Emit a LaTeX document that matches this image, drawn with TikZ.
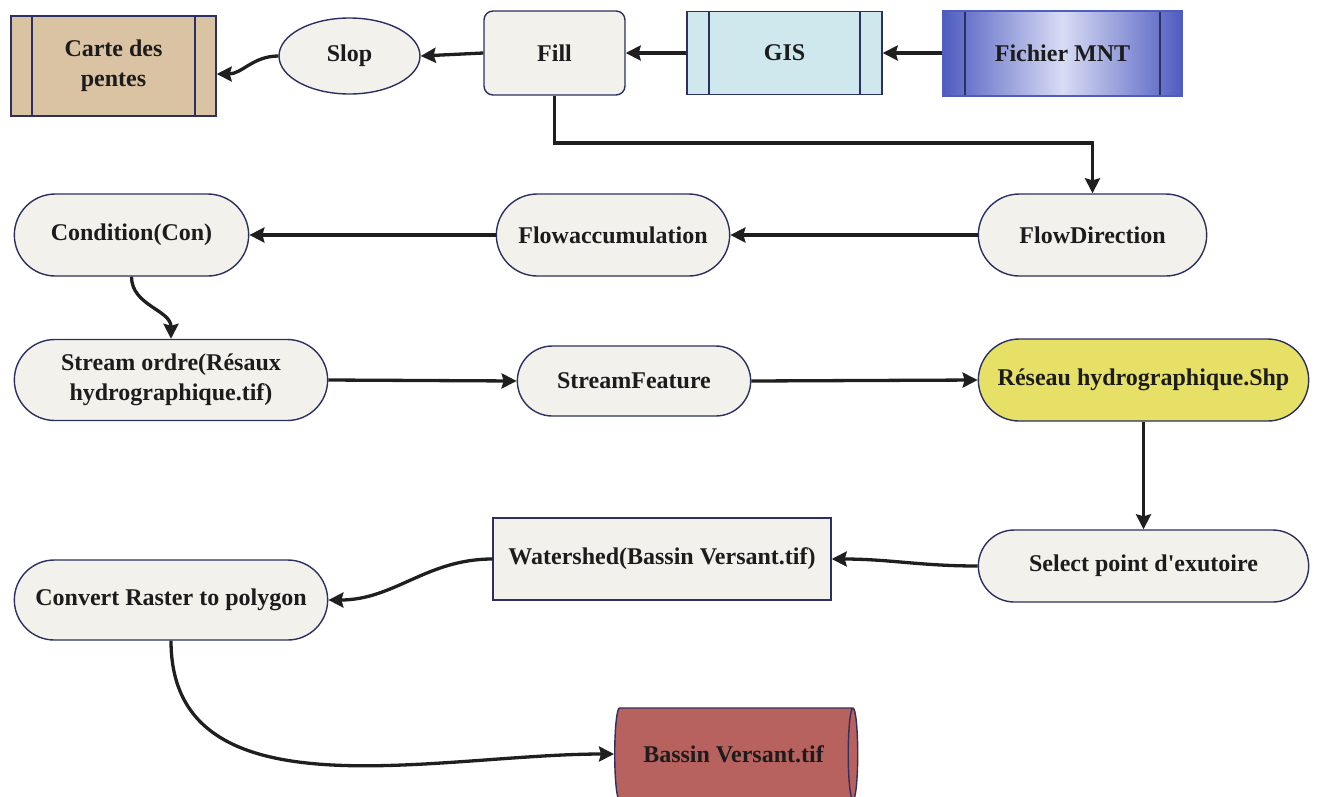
\documentclass[tikz,border=0pt]{standalone}
\usepackage{fontspec}
\setmainfont{Liberation Serif}
\usetikzlibrary{shapes.misc,shapes.geometric,arrows.meta}
\definecolor{navy}{HTML}{2B3060}
\definecolor{offw}{HTML}{F2F1EC}
\definecolor{tan}{HTML}{D9C3A2}
\definecolor{lblue}{HTML}{CFE8EE}
\definecolor{mblue}{HTML}{4F5CC0}
\definecolor{pblue}{HTML}{D8DCF4}
\definecolor{ylw}{HTML}{E6E066}
\definecolor{brick}{HTML}{B8625F}
\definecolor{txt}{HTML}{1C1C1C}
\tikzset{
  base/.style={draw=navy, line width=1.4pt, text=txt, align=center,
    font=\fontsize{24}{30}\selectfont\bfseries},
  pill/.style={base, rounded rectangle, fill=offw},
  rbox/.style={base, rectangle, rounded corners=9pt, fill=offw},
  sbox/.style={base, rectangle, fill=offw},
  sidebars/.style={path picture={
    \draw[navy, line width=1.4pt] ([xshift=#1]path picture bounding box.north west) -- ([xshift=#1]path picture bounding box.south west);
    \draw[navy, line width=1.4pt] ([xshift=-#1]path picture bounding box.north east) -- ([xshift=-#1]path picture bounding box.south east);}},
  conn/.style={line width=3.3pt, draw=black!88, -{Stealth[length=15pt,width=15pt,inset=2pt]}},
}
\begin{document}
\begin{tikzpicture}[x=1pt,y=-1pt]
\useasboundingbox (0,0) rectangle (1317,796);
% top row
\node[base, rectangle, fill=tan, minimum width=205, minimum height=100, sidebars=21pt] (carte) at (113.5,66) {Carte des\\pentes};
\node[base, ellipse, fill=offw, minimum width=141, minimum height=76, inner sep=0pt] (slop) at (349.5,56) {Slop};
\node[rbox, minimum width=141, minimum height=84] (fill) at (554.5,53) {Fill};
\node[base, rectangle, fill=lblue, minimum width=195, minimum height=83, sidebars=22pt] (gis) at (784.5,53) {GIS};
\node[base, rectangle, draw=mblue, line width=2pt, left color=mblue, right color=mblue, middle color=pblue, minimum width=239, minimum height=85, sidebars=22pt] (mnt) at (1062.5,53) {Fichier MNT};
% second row
\node[pill, minimum width=235, minimum height=82] (fd) at (1092.5,235) {FlowDirection};
\node[pill, minimum width=240, minimum height=82] (fa) at (613,235) {Flowaccumulation};
\node[pill, minimum width=241, minimum height=82] (con) at (131.5,235) {Condition(Con)};
% third row
\node[pill, minimum width=320, minimum height=81] (so) at (171,380) {Stream ordre(Résaux\\hydrographique.tif)};
\node[pill, minimum width=240, minimum height=70] (sf) at (634,381) {StreamFeature};
\node[pill, fill=ylw, minimum width=337, minimum height=82] (rh) at (1143.5,380) {Réseau hydrographique.Shp};
% fourth row
\node[pill, minimum width=337, minimum height=72] (sel) at (1143.5,566) {Select point d\textquotesingle exutoire};
\node[sbox, minimum width=338, minimum height=82] (ws) at (662,559) {Watershed(Bassin Versant.tif)};
\node[pill, minimum width=320, minimum height=80] (cv) at (171,600) {Convert Raster to polygon};
% cylinder
\node[base, cylinder, shape aspect=0.55, fill=brick, cylinder uses custom fill, cylinder body fill=brick, cylinder end fill=brick, minimum width=92, minimum height=243, inner sep=0pt] (bv) at (733.5,754) {Bassin Versant.tif};
% connectors
\coordinate (c1) at (554.5,143);
\draw[conn] (mnt.west) -- (gis.east);
\draw[conn] (gis.west) -- (fill.east);
\draw[conn] (fill.west) -- (slop.east);
\draw[conn] (slop.west) to[out=180,in=0] ([yshift=-8]carte.east);
\draw[conn] (fill.south) -- (c1) -| (fd.north);
\draw[conn] (fd.west) -- (fa.east);
\draw[conn] (fa.west) -- (con.east);
\draw[conn] (con.south) to[out=-90,in=90] (so.north);
\draw[conn] (so.east) -- (sf.west);
\draw[conn] (sf.east) -- (rh.west);
\draw[conn] (rh.south) -- (sel.north);
\draw[conn] (sel.west) to[out=180,in=0] (ws.east);
\draw[conn] (ws.west) to[out=180,in=0] (cv.east);
\draw[conn] (cv.south) to[out=-90,in=180] (bv.west);
\end{tikzpicture}
\end{document}
